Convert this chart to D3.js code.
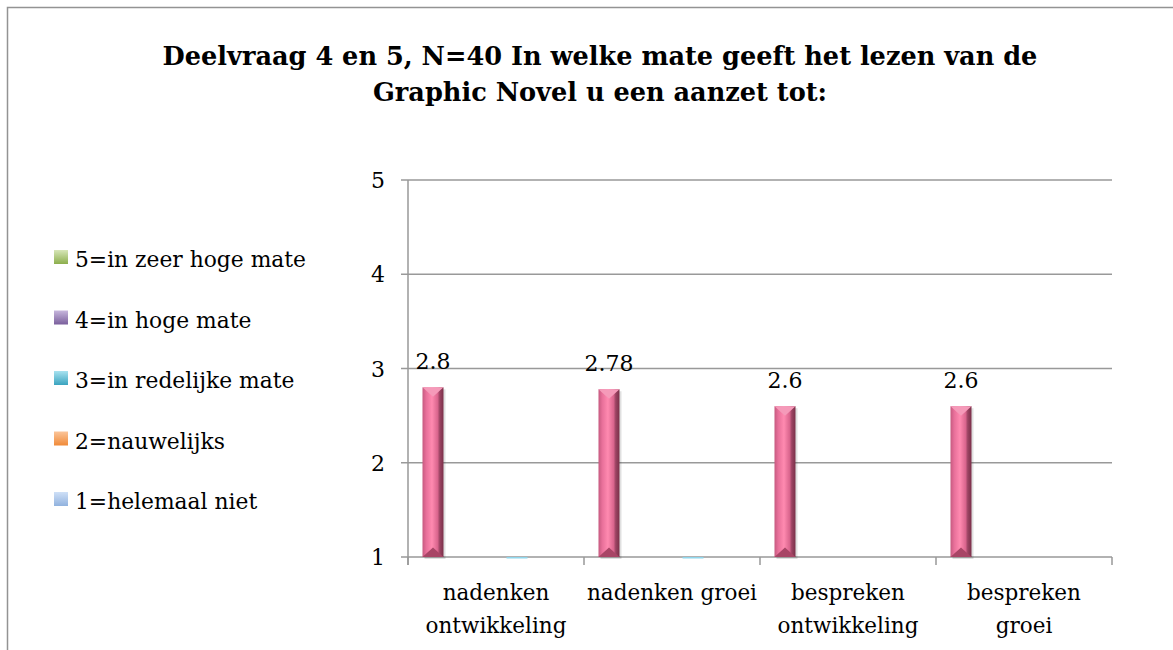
<!DOCTYPE html>
<html>
<head>
<meta charset="utf-8">
<script src="https://cdn.jsdelivr.net/npm/d3@7"></script>
<style>
  body { margin: 0; background: #fff; }
  text { font-family: "DejaVu Serif", serif; fill: #000; }
</style>
</head>
<body>
<script>
// chart data
var categories = ["nadenken ontwikkeling", "nadenken groei", "bespreken ontwikkeling", "bespreken groei"];
var categoryLines = [["nadenken", "ontwikkeling"], ["nadenken groei"], ["bespreken", "ontwikkeling"], ["bespreken", "groei"]];
var seriesSlots = ["gemiddelde", "leeg", "1", "2", "3", "4", "5"];
var meanValues = [2.8, 2.78, 2.6, 2.6];
var redelijkValues = [1, 1, null, null]; // series "3", only visible as a thin line at the base
var yTicks = [1, 2, 3, 4, 5];
var legendLabels = ["5=in zeer hoge mate", "4=in hoge mate", "3=in redelijke mate", "2=nauwelijks", "1=helemaal niet"];
var legendColors = [["#d7e6b8", "#8cae4c"], ["#c7b7dd", "#7a5f9c"], ["#a8e2f0", "#3aa3bf"], ["#fbc59a", "#f08a38"], ["#cfe0f7", "#91b2de"]];
var titleLines = ["Deelvraag 4 en 5, N=40 In welke mate geeft het lezen van de", "Graphic Novel u een aanzet tot:"];

var W = 1173, H = 650;
var plot = {left: 408, right: 1112, top: 180, bottom: 557};

var svg = d3.select("body").append("svg")
    .attr("width", W)
    .attr("height", H);

var defs = svg.append("defs");

// bar gradient (bevel look)
var bg = defs.append("linearGradient").attr("id", "barGrad")
    .attr("x1", "0%").attr("x2", "100%").attr("y1", "0%").attr("y2", "0%");
bg.append("stop").attr("offset", "0%").attr("stop-color", "#c65a80");
bg.append("stop").attr("offset", "18%").attr("stop-color", "#e8709a");
bg.append("stop").attr("offset", "45%").attr("stop-color", "#ff8ab0");
bg.append("stop").attr("offset", "72%").attr("stop-color", "#d9658d");
bg.append("stop").attr("offset", "82%").attr("stop-color", "#9c4463");
bg.append("stop").attr("offset", "100%").attr("stop-color", "#7a3049");

legendColors.forEach(function(c, i) {
  var g = defs.append("linearGradient").attr("id", "leg" + i)
      .attr("x1", "0%").attr("x2", "0%").attr("y1", "0%").attr("y2", "100%");
  g.append("stop").attr("offset", "0%").attr("stop-color", c[0]);
  g.append("stop").attr("offset", "100%").attr("stop-color", c[1]);
});

// outer frame (continues past the window)
svg.append("rect")
    .attr("x", 7.5).attr("y", 7.5)
    .attr("width", W + 20).attr("height", H + 20)
    .attr("fill", "none")
    .attr("stroke", "#939393")
    .attr("stroke-width", 1.5);

// title
svg.append("g").selectAll("text")
    .data(titleLines)
  .enter().append("text")
    .attr("x", 600)
    .attr("y", function(d, i) { return 65 + i * 36; })
    .attr("text-anchor", "middle")
    .attr("font-weight", "bold")
    .attr("font-size", 25.6)
    .text(function(d) { return d; });

// scales
var x = d3.scaleBand()
    .domain(categories)
    .range([plot.left, plot.right]);

var xs = d3.scaleBand()
    .domain(seriesSlots)
    .range([0, x.bandwidth()])
    .paddingOuter(0.69)
    .paddingInner(0.0);

var y = d3.scaleLinear()
    .domain([1, 5])
    .range([plot.bottom, plot.top]);

// gridlines
svg.append("g").selectAll("line")
    .data(yTicks)
  .enter().append("line")
    .attr("x1", plot.left - 7)
    .attr("x2", plot.right)
    .attr("y1", function(d) { return y(d); })
    .attr("y2", function(d) { return y(d); })
    .attr("stroke", "#999")
    .attr("stroke-width", 1.5);

// y axis line
svg.append("line")
    .attr("x1", plot.left).attr("x2", plot.left)
    .attr("y1", plot.top).attr("y2", plot.bottom + 8)
    .attr("stroke", "#999").attr("stroke-width", 1.5);

// y tick labels
svg.append("g").selectAll("text")
    .data(yTicks)
  .enter().append("text")
    .attr("x", 385)
    .attr("y", function(d) { return y(d) + 8; })
    .attr("text-anchor", "end")
    .attr("font-size", 22)
    .text(function(d) { return d; });

// category ticks
var tickXs = categories.map(function(c) { return x(c); }).concat([plot.right]);
svg.append("g").selectAll("line")
    .data(tickXs)
  .enter().append("line")
    .attr("x1", function(d) { return d; })
    .attr("x2", function(d) { return d; })
    .attr("y1", plot.bottom)
    .attr("y2", plot.bottom + 8)
    .attr("stroke", "#999").attr("stroke-width", 1.5);

// category labels
var catG = svg.append("g").selectAll("g")
    .data(categories)
  .enter().append("g");
catG.selectAll("text")
    .data(function(d, i) { return categoryLines[i].map(function(t) { return {t: t, c: d}; }); })
  .enter().append("text")
    .attr("x", function(d) { return x(d.c) + x.bandwidth() / 2; })
    .attr("y", function(d, i) { return 600 + i * 33; })
    .attr("text-anchor", "middle")
    .attr("font-size", 21.5)
    .text(function(d) { return d.t; });

// thin "3" series bars at the base
svg.append("g").selectAll("rect")
    .data(redelijkValues.map(function(v, i) { return {v: v, c: categories[i]}; }).filter(function(d) { return d.v != null; }))
  .enter().append("rect")
    .attr("x", function(d) { return x(d.c) + xs("3"); })
    .attr("y", function(d) { return y(d.v); })
    .attr("width", xs.bandwidth())
    .attr("height", 1.5)
    .attr("fill", "#8fd6ec");

// mean bars
var bars = svg.append("g").selectAll("g")
    .data(meanValues.map(function(v, i) { return {v: v, c: categories[i]}; }))
  .enter().append("g");

var bw = xs.bandwidth();
bars.append("rect")
    .attr("x", function(d) { return x(d.c) + xs("gemiddelde") + 2; })
    .attr("y", function(d) { return y(d.v) + 2; })
    .attr("width", bw)
    .attr("height", function(d) { return plot.bottom - y(d.v); })
    .attr("fill", "#000")
    .attr("opacity", 0.12);

bars.append("rect")
    .attr("x", function(d) { return x(d.c) + xs("gemiddelde"); })
    .attr("y", function(d) { return y(d.v); })
    .attr("width", bw)
    .attr("height", function(d) { return plot.bottom - y(d.v); })
    .attr("fill", "url(#barGrad)");

// bevel triangles top / bottom
bars.append("path")
    .attr("d", function(d) {
      var x0 = x(d.c) + xs("gemiddelde"), y0 = y(d.v), h = bw * 0.45;
      return "M" + x0 + "," + y0 + "L" + (x0 + bw) + "," + y0 + "L" + (x0 + bw / 2) + "," + (y0 + h) + "Z";
    })
    .attr("fill", "#f59ab9");
bars.append("path")
    .attr("d", function(d) {
      var x0 = x(d.c) + xs("gemiddelde"), y0 = plot.bottom, h = bw * 0.45;
      return "M" + x0 + "," + y0 + "L" + (x0 + bw) + "," + y0 + "L" + (x0 + bw / 2) + "," + (y0 - h) + "Z";
    })
    .attr("fill", "#a84566");

// data labels
bars.append("text")
    .attr("x", function(d) { return x(d.c) + xs("gemiddelde") + bw / 2; })
    .attr("y", function(d) { return y(d.v) - 18; })
    .attr("text-anchor", "middle")
    .attr("font-size", 22)
    .text(function(d) { return d.v; });

// legend
var leg = svg.append("g").selectAll("g")
    .data(legendLabels)
  .enter().append("g")
    .attr("transform", function(d, i) { return "translate(54," + (250 + i * 60.5) + ")"; });
leg.append("rect")
    .attr("width", 14).attr("height", 14)
    .attr("fill", function(d, i) { return "url(#leg" + i + ")"; });
leg.append("text")
    .attr("x", 21).attr("y", 17)
    .attr("font-size", 21.8)
    .text(function(d) { return d; });
</script>
</body>
</html>
